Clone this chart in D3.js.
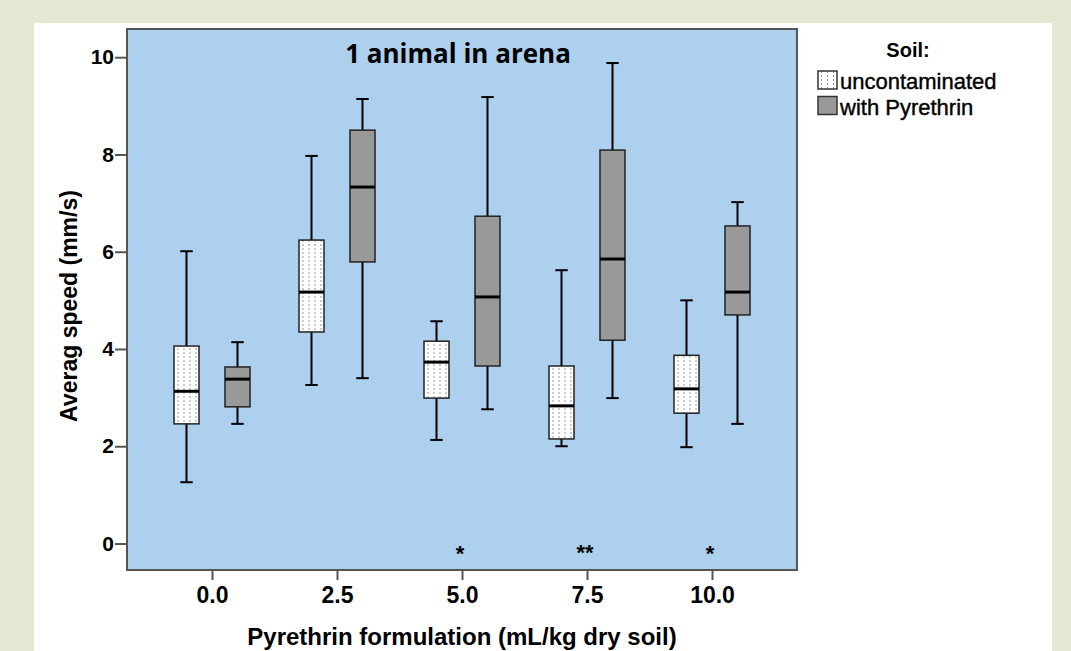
<!DOCTYPE html>
<html>
<head>
<meta charset="utf-8">
<script src="https://cdn.jsdelivr.net/npm/d3@7"></script>
<style>
  body { margin: 0; background: #e3e8d3; }
  svg { display: block; }
</style>
</head>
<body>
<svg id="chart" width="1071" height="651"></svg>
<script>
// data
var doses = ["0.0", "2.5", "5.0", "7.5", "10.0"];
var soils = ["uncontaminated", "with Pyrethrin"];
// [low whisker, Q1, median, Q3, high whisker]
var uncontaminated = [
  [1.26, 2.46, 3.13, 4.06, 6.01],
  [3.26, 4.35, 5.17, 6.24, 7.97],
  [2.13, 2.99, 3.73, 4.16, 4.57],
  [2.00, 2.15, 2.83, 3.65, 5.62],
  [1.98, 2.68, 3.18, 3.87, 5.00]
];
var withPyrethrin = [
  [2.46, 2.81, 3.38, 3.63, 4.14],
  [3.40, 5.79, 7.33, 8.50, 9.14],
  [2.76, 3.65, 5.07, 6.73, 9.18],
  [2.99, 4.18, 5.85, 8.09, 9.88],
  [2.46, 4.70, 5.17, 6.53, 7.02]
];
var yTicks = [0, 2, 4, 6, 8, 10];
var stars = ["", "", "*", "**", "*"];

var svg = d3.select("#chart");
var font = "Liberation Sans, Arial, sans-serif";

// white panel
svg.append("rect").attr("x", 34).attr("y", 23).attr("width", 1018).attr("height", 640)
  .attr("fill", "#fff");

var pLeft = 127, pRight = 797, pTop = 29, pBottom = 570;

var x = d3.scalePoint().domain(doses).range([pLeft, pRight]).padding(0.68);
var y = d3.scaleLinear().domain([-0.545, 10.58]).range([pBottom, pTop]);

// dotted pattern for the uncontaminated boxes
var defs = svg.append("defs");
var pat = defs.append("pattern").attr("id", "dots").attr("patternUnits", "userSpaceOnUse")
  .attr("width", 6).attr("height", 4);
pat.append("rect").attr("width", 6).attr("height", 4).attr("fill", "#fff");
pat.append("rect").attr("x", 3).attr("y", 0).attr("width", 1).attr("height", 2).attr("fill", "#999");

svg.append("rect").attr("x", pLeft).attr("y", pTop).attr("width", pRight - pLeft).attr("height", pBottom - pTop)
  .attr("fill", "#acd0ee").attr("stroke", "#555").attr("stroke-width", 2);

// y axis
var yAxis = svg.append("g").attr("transform", "translate(" + pLeft + ",0)")
  .call(d3.axisLeft(y).tickValues(yTicks).tickSize(12).tickPadding(1).tickFormat(d3.format("d")));
yAxis.select(".domain").remove();
yAxis.selectAll("line").attr("stroke", "#555").attr("stroke-width", 2);
yAxis.selectAll("text").attr("font-family", font)
  .attr("font-size", 21).attr("font-weight", "bold").attr("fill", "#000");

// x axis
var xAxis = svg.append("g").attr("transform", "translate(0," + pBottom + ")")
  .call(d3.axisBottom(x).tickSize(10).tickPadding(7));
xAxis.select(".domain").remove();
xAxis.selectAll("line").attr("stroke", "#555").attr("stroke-width", 2);
xAxis.selectAll("text").attr("font-family", font)
  .attr("font-size", 23).attr("font-weight", "bold").attr("fill", "#000");

// boxes
var boxW = 25, offset = 25.5;
function drawBoxes(data, dx, fill) {
  var g = svg.append("g").selectAll("g").data(data).enter().append("g")
    .attr("transform", function(d, i) { return "translate(" + (x(doses[i]) + dx) + ",0)"; });
  g.append("line").attr("x1", 0).attr("x2", 0)
    .attr("y1", function(d) { return y(d[0]); }).attr("y2", function(d) { return y(d[4]); })
    .attr("stroke", "#000").attr("stroke-width", 2);
  g.selectAll(".cap").data(function(d) { return [d[0], d[4]]; }).enter().append("line")
    .attr("x1", -boxW / 4).attr("x2", boxW / 4)
    .attr("y1", function(v) { return y(v); }).attr("y2", function(v) { return y(v); })
    .attr("stroke", "#000").attr("stroke-width", 2);
  g.append("rect").attr("x", -boxW / 2).attr("width", boxW)
    .attr("y", function(d) { return y(d[3]); })
    .attr("height", function(d) { return y(d[1]) - y(d[3]); })
    .attr("fill", fill).attr("stroke", "#222").attr("stroke-width", 1.5);
  g.append("line").attr("x1", -boxW / 2).attr("x2", boxW / 2)
    .attr("y1", function(d) { return y(d[2]); }).attr("y2", function(d) { return y(d[2]); })
    .attr("stroke", "#000").attr("stroke-width", 3);
}
drawBoxes(uncontaminated, -offset, "url(#dots)");
drawBoxes(withPyrethrin, offset, "#999");

// significance stars
svg.append("g").selectAll("text").data(stars).enter().append("text")
  .attr("x", function(d, i) { return x(doses[i]) - 2; })
  .attr("y", function(d) { return d.length > 1 ? y(-0.33) : y(-0.37); })
  .attr("text-anchor", "middle")
  .attr("font-family", font).attr("font-size", 22).attr("font-weight", "bold")
  .text(function(d) { return d; });

// title
svg.append("text").attr("x", 458).attr("y", 63).attr("text-anchor", "middle")
  .attr("font-family", "Open Sans, sans-serif").attr("font-size", 26).attr("font-weight", "bold")
  .text("1 animal in arena");

// axis titles
svg.append("text").attr("transform", "translate(77,306) rotate(-90)")
  .attr("text-anchor", "middle")
  .attr("font-family", font).attr("font-size", 23).attr("font-weight", "bold")
  .text("Averag speed (mm/s)");
svg.append("text").attr("x", 462).attr("y", 645).attr("text-anchor", "middle")
  .attr("font-family", font).attr("font-size", 24).attr("font-weight", "bold")
  .text("Pyrethrin formulation (mL/kg dry soil)");

// legend
svg.append("text").attr("x", 908).attr("y", 57).attr("text-anchor", "middle")
  .attr("font-family", font).attr("font-size", 20).attr("font-weight", "bold")
  .text("Soil:");
var leg = svg.append("g").selectAll("g").data(soils).enter().append("g")
  .attr("transform", function(d, i) { return "translate(818," + (71 + i * 25.5) + ")"; });
leg.append("rect").attr("width", 19).attr("height", 18)
  .attr("fill", function(d, i) { return i === 0 ? "url(#dots)" : "#999"; })
  .attr("stroke", "#333").attr("stroke-width", 1.5);
leg.append("text").attr("x", 22).attr("y", 18)
  .attr("font-family", font).attr("font-size", 22)
  .attr("stroke", "#000").attr("stroke-width", 0.4)
  .text(function(d) { return d; });
</script>
</body>
</html>
